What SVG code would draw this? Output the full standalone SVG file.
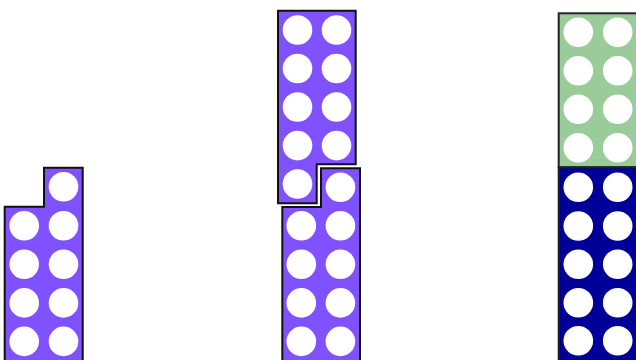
<svg xmlns="http://www.w3.org/2000/svg" width="636" height="360" viewBox="0 0 636 360">
<style>
.p{fill:#8052ff;stroke:#111;stroke-width:2;stroke-linejoin:miter}
.g{fill:#99cc99;stroke:#222;stroke-width:2}
.b{fill:#000099;stroke:#222;stroke-width:2}
.h{fill:#fff}
</style>
<rect width="636" height="360" fill="#fff"/>
<g id="left">
<path class="p" d="M4.7,206.7 H44 V167.7 H82.7 V364 H4.7 Z"/>
<g class="h">
<circle cx="63.5" cy="186.8" r="14.8"/>
<circle cx="24.2" cy="225.7" r="14.8"/><circle cx="63.5" cy="225.7" r="14.8"/>
<circle cx="24.2" cy="264.3" r="14.8"/><circle cx="63.5" cy="264.3" r="14.8"/>
<circle cx="24.2" cy="302.9" r="14.8"/><circle cx="63.5" cy="302.9" r="14.8"/>
<circle cx="24.2" cy="341.4" r="14.8"/><circle cx="63.5" cy="341.4" r="14.8"/>
</g>
</g>
<g id="middle-top">
<path class="p" d="M278,10.7 H355.7 V164.3 H316.7 V203.3 H278 Z"/>
<g class="h">
<circle cx="297.5" cy="30" r="14.8"/><circle cx="336.5" cy="30" r="14.8"/>
<circle cx="297.5" cy="68.5" r="14.8"/><circle cx="336.5" cy="68.5" r="14.8"/>
<circle cx="297.5" cy="107" r="14.8"/><circle cx="336.5" cy="107" r="14.8"/>
<circle cx="297.5" cy="145.6" r="14.8"/><circle cx="336.5" cy="145.6" r="14.8"/>
<circle cx="297.5" cy="184" r="14.8"/>
</g>
</g>
<g id="middle-bottom">
<path class="p" d="M282.3,207 H321 V168.3 H360 V364 H282.3 Z"/>
<g class="h">
<circle cx="340.4" cy="187.3" r="14.8"/>
<circle cx="301.3" cy="225.8" r="14.8"/><circle cx="340.4" cy="225.8" r="14.8"/>
<circle cx="301.3" cy="264.3" r="14.8"/><circle cx="340.4" cy="264.3" r="14.8"/>
<circle cx="301.3" cy="302.9" r="14.8"/><circle cx="340.4" cy="302.9" r="14.8"/>
<circle cx="301.3" cy="341.4" r="14.8"/><circle cx="340.4" cy="341.4" r="14.8"/>
</g>
</g>
<g id="right-green">
<rect class="g" x="558.7" y="13.3" width="78.5" height="154"/>
<g class="h">
<circle cx="578.3" cy="32.3" r="14.8"/><circle cx="617.7" cy="32.3" r="14.8"/>
<circle cx="578.3" cy="70.8" r="14.8"/><circle cx="617.7" cy="70.8" r="14.8"/>
<circle cx="578.3" cy="109.2" r="14.8"/><circle cx="617.7" cy="109.2" r="14.8"/>
<circle cx="578.3" cy="147.7" r="14.8"/><circle cx="617.7" cy="147.7" r="14.8"/>
</g>
</g>
<g id="right-blue">
<rect class="b" x="558.7" y="167.3" width="78.5" height="196"/>
<g class="h">
<circle cx="578.3" cy="187.3" r="14.8"/><circle cx="617.7" cy="187.3" r="14.8"/>
<circle cx="578.3" cy="226" r="14.8"/><circle cx="617.7" cy="226" r="14.8"/>
<circle cx="578.3" cy="264.3" r="14.8"/><circle cx="617.7" cy="264.3" r="14.8"/>
<circle cx="578.3" cy="302.8" r="14.8"/><circle cx="617.7" cy="302.8" r="14.8"/>
<circle cx="578.3" cy="340.8" r="14.8"/><circle cx="617.7" cy="340.8" r="14.8"/>
</g>
</g>
<g id="connectors"/>
</svg>
